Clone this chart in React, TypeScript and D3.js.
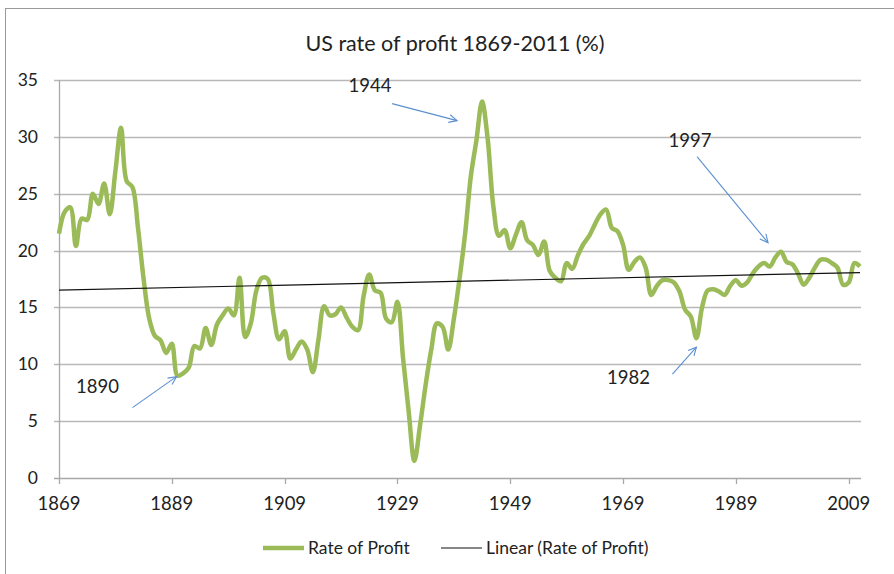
import React from 'react';
import * as d3 from 'd3';

// US rate of profit, one value per year starting 1869
const startYear = 1869;
const rateOfProfit = [
  21.5, 23.4, 23.8, 20.4, 22.8, 22.7, 25.0, 24.1, 25.9, 23.2,
  27.0, 30.8, 26.1, 25.6, 22.0, 17.5, 14.0, 12.5, 12.1, 11.0,
  11.8, 9.0, 9.2, 9.7, 11.6, 11.4, 13.2, 11.7, 13.5, 14.3,
  14.9, 14.3, 17.6, 12.4, 13.6, 16.5, 17.6, 17.5, 14.5, 12.2,
  12.9, 10.5, 11.3, 12.0, 11.3, 9.3, 12.2, 15.1, 14.3, 14.4,
  15.0, 14.1, 13.3, 13.0, 16.0, 17.9, 16.5, 16.3, 14.0, 13.7,
  15.5, 10.5, 5.8, 1.5, 4.6, 8.2, 11.3, 13.6, 13.3, 11.3,
  14.0, 17.5, 21.5, 26.5, 29.7, 33.1, 29.8, 23.9, 21.3, 21.8,
  20.2, 21.4, 22.5, 20.9, 20.5, 19.6, 20.8, 18.2, 17.6, 17.3,
  18.9, 18.4, 19.6, 20.6, 21.3, 22.3, 23.2, 23.6, 22.0, 21.7,
  20.5, 18.3, 19.0, 19.4, 18.5, 16.1, 16.9, 17.4, 17.4, 17.2,
  16.4, 14.8, 14.2, 12.3, 15.0, 16.5, 16.6, 16.4, 16.1, 16.9,
  17.4, 16.9, 17.2, 18.0, 18.6, 18.9, 18.6, 19.4, 19.9, 19.0,
  18.8, 18.0, 17.0, 17.6, 18.5, 19.2, 19.2, 18.9, 18.5, 17.0,
  17.2, 18.9, 18.6,
];
const xTickYears = [1869, 1889, 1909, 1929, 1949, 1969, 1989, 2009];
const yTicks = [0, 5, 10, 15, 20, 25, 30, 35];
const noteYears = [1890, 1944, 1982, 1997];

// label / arrow offsets (px) relative to the marked point
const noteLayout = {
  1890: { label: [-80, 17], tail: [-45, 32], tip: [-1, 1] },
  1944: { label: [-112, -10], tail: [-90, 2], tip: [-25, 19] },
  1982: { label: [-68, 46], tail: [-24, 36], tip: [0, 9] },
  1997: { label: [-91, -105], tail: [-84, -95], tip: [-13, -9] },
};

const FONT = 'Lato, "Open Sans", sans-serif';
const GREEN = '#9BBB59';
const ARROW = '#5B8FD0';

export default function App() {
  const data = rateOfProfit.map((v, i) => ({ year: startYear + i, value: v }));
  const endYear = startYear + rateOfProfit.length - 1;

  const x = d3.scaleLinear().domain([startYear, endYear]).range([59, 860]);
  const y = d3.scaleLinear().domain([0, 35]).range([478, 80]);

  const line = d3.line<{ year: number; value: number }>()
    .x(d => x(d.year))
    .y(d => y(d.value))
    .curve(d3.curveCatmullRom.alpha(0.5));

  // least squares trend, like Excel's linear trendline
  const mx = d3.mean(data, d => d.year) as number;
  const my = d3.mean(data, d => d.value) as number;
  const slope = (d3.sum(data, d => (d.year - mx) * (d.value - my))) /
    (d3.sum(data, d => (d.year - mx) ** 2));
  const trend = (yr: number) => my + slope * (yr - mx);

  const arrowHead = (x1: number, y1: number, x2: number, y2: number) => {
    const a = Math.atan2(y2 - y1, x2 - x1);
    const len = 9, spread = 0.45;
    const p1 = [x2 - len * Math.cos(a - spread), y2 - len * Math.sin(a - spread)];
    const p2 = [x2 - len * Math.cos(a + spread), y2 - len * Math.sin(a + spread)];
    return `M${p1[0]},${p1[1]}L${x2},${y2}L${p2[0]},${p2[1]}`;
  };

  return (
    <svg width={894} height={574} style={{ position: 'absolute', left: 0, top: 0, background: '#fff' }}>
      <rect x={5.5} y={8.5} width={1000} height={1000} fill="#fff" stroke="#9a9a9a" />

      <text x={455} y={51} textAnchor="middle" fontFamily={FONT} fontSize={21.5} fill="#222">
        US rate of profit 1869-2011 (%)
      </text>

      {/* gridlines + y axis */}
      {yTicks.map(t => (
        <g key={t}>
          <line x1={54} x2={861} y1={Math.round(y(t)) + 0.5} y2={Math.round(y(t)) + 0.5}
            stroke={t === 0 ? '#a8a8a8' : '#b8b8b8'} strokeWidth={1.3} />
          <text x={38} y={y(t) + 6} textAnchor="end" fontFamily={FONT} fontSize={17.5} fill="#222">{t}</text>
        </g>
      ))}
      <line x1={59.5} x2={59.5} y1={80} y2={478} stroke="#a8a8a8" strokeWidth={1.3} />

      {/* x axis ticks */}
      {xTickYears.map(t => (
        <g key={t}>
          <line x1={Math.round(x(t)) + 0.5} x2={Math.round(x(t)) + 0.5} y1={478} y2={484} stroke="#a8a8a8" strokeWidth={1.3} />
          <text x={x(t)} y={510} textAnchor="middle" fontFamily={FONT} fontSize={18.5} fill="#222">{t}</text>
        </g>
      ))}

      <path d={line(data) as string} fill="none" stroke={GREEN} strokeWidth={4.5} strokeLinejoin="round" />
      <line x1={x(startYear)} y1={y(trend(startYear))} x2={x(endYear)} y2={y(trend(endYear))} stroke="#111" strokeWidth={1.2} />

      {/* annotations */}
      {noteYears.map(yr => {
        const d = data[yr - startYear];
        const px = x(d.year), py = y(d.value);
        const L = (noteLayout as any)[yr];
        const tx = px + L.tail[0], ty = py + L.tail[1];
        const hx = px + L.tip[0], hy = py + L.tip[1];
        return (
          <g key={yr}>
            <text x={px + L.label[0]} y={py + L.label[1]} textAnchor="middle" fontFamily={FONT} fontSize={18.5} fill="#222">{yr}</text>
            <line x1={tx} y1={ty} x2={hx} y2={hy} stroke={ARROW} strokeWidth={1.1} />
            <path d={arrowHead(tx, ty, hx, hy)} fill="none" stroke={ARROW} strokeWidth={1.1} />
          </g>
        );
      })}

      {/* legend */}
      <line x1={263} x2={304} y1={548} y2={548} stroke={GREEN} strokeWidth={4.5} />
      <text x={308} y={554} fontFamily={FONT} fontSize={17.5} fill="#222">Rate of Profit</text>
      <line x1={441} x2={482} y1={548} y2={548} stroke="#111" strokeWidth={1.2} />
      <text x={486} y={554} fontFamily={FONT} fontSize={17.5} fill="#222">Linear (Rate of Profit)</text>
    </svg>
  );
}
